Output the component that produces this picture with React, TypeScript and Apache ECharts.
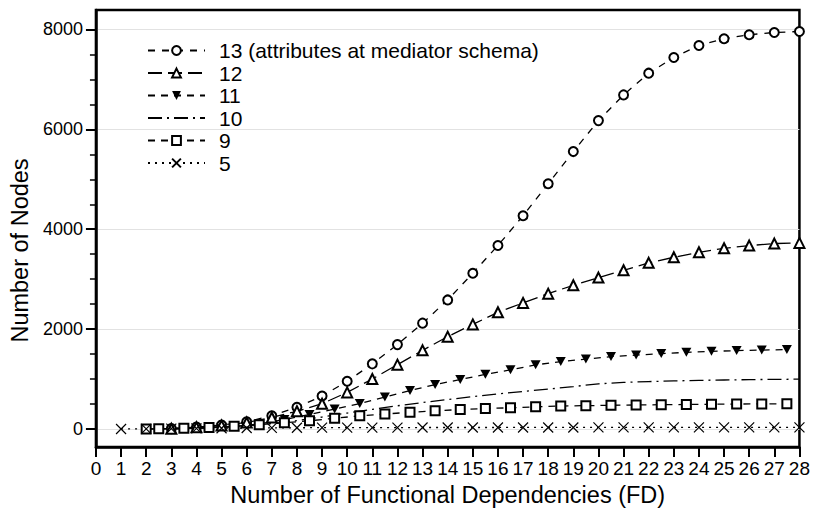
import React, { useEffect, useRef } from "react";
import * as echarts from "echarts";

const FONT = "'Liberation Sans', Arial, Helvetica, sans-serif";

const yMajor = [0, 2000, 4000, 6000, 8000];
const yMinor = [500, 1000, 1500, 2500, 3000, 3500, 4500, 5000, 5500, 6500, 7000, 7500];

const names = ["13 (attributes at mediator schema)", "12", "11", "10", "9", "5"];

// 13 attributes (circles)
const x13 = [3, 4, 5, 6, 7, 8, 9, 10, 11, 12, 13, 14, 15, 16, 17, 18, 19, 20, 21, 22, 23, 24, 25, 26, 27, 28];
const y13 = [8, 40, 78, 145, 265, 435, 660, 955, 1305, 1690, 2120, 2585, 3120, 3675, 4270, 4910, 5555, 6175, 6690, 7125, 7440, 7680, 7815, 7895, 7940, 7960];

// 12 attributes (open triangles)
const x12 = [3, 4, 5, 6, 7, 8, 9, 10, 11, 12, 13, 14, 15, 16, 17, 18, 19, 20, 21, 22, 23, 24, 25, 26, 27, 28];
const y12 = [6, 35, 70, 130, 232, 355, 507, 733, 1002, 1289, 1575, 1850, 2095, 2337, 2525, 2711, 2878, 3032, 3178, 3327, 3439, 3539, 3619, 3673, 3713, 3727];

// 11 attributes (filled down triangles)
const x11 = [2.5, 3.5, 4.5, 5.5, 6.5, 7.5, 8.5, 9.5, 10.5, 11.5, 12.5, 13.5, 14.5, 15.5, 16.5, 17.5, 18.5, 19.5, 20.5, 21.5, 22.5, 23.5, 24.5, 25.5, 26.5, 27.5];
const y11 = [2, 8, 22, 48, 100, 190, 290, 400, 510, 640, 770, 890, 990, 1095, 1185, 1285, 1350, 1400, 1450, 1480, 1510, 1535, 1555, 1570, 1580, 1590];

// 10 attributes (dash-dot, no marker)
const x10 = [2, 3, 4, 5, 6, 7, 8, 9, 10, 11, 12, 13, 14, 15, 16, 17, 18, 19, 20, 21, 22, 23, 24, 25, 26, 27, 28];
const y10 = [0, 5, 15, 35, 65, 110, 170, 240, 320, 395, 465, 530, 590, 648, 702, 752, 798, 850, 905, 932, 950, 963, 973, 982, 989, 994, 998];

// 9 attributes (open squares)
const x9 = [2, 2.5, 3.5, 4.5, 5.5, 6.5, 7.5, 8.5, 9.5, 10.5, 11.5, 12.5, 13.5, 14.5, 15.5, 16.5, 17.5, 18.5, 19.5, 20.5, 21.5, 22.5, 23.5, 24.5, 25.5, 26.5, 27.5];
const y9 = [2, 5, 15, 30, 55, 85, 125, 165, 215, 265, 300, 335, 365, 390, 410, 425, 445, 460, 468, 475, 482, 487, 492, 496, 500, 503, 507];

// 5 attributes (crosses)
const x5 = [1, 2, 3, 4, 5, 6, 7, 8, 9, 10, 11, 12, 13, 14, 15, 16, 17, 18, 19, 20, 21, 22, 23, 24, 25, 26, 27, 28];
const y5 = [1, 4, 8, 12, 16, 20, 23, 25, 27, 28, 29, 29, 30, 30, 30, 31, 31, 31, 31, 32, 32, 32, 32, 32, 32, 32, 32, 32];

const pairs = (xs: number[], ys: number[]) => xs.map((x, i) => [x, ys[i]]);

const DOWN_TRI = "path://M0,0 L10,0 L5,9 Z";
const CROSS = "path://M0,0 L10,10 M10,0 L0,10";

export default function App() {
  const ref = useRef<HTMLDivElement>(null);
  useEffect(() => {
    if (!ref.current) return;
    const chart = echarts.init(ref.current, undefined, { renderer: "svg" });
    const lineBase = { color: "#000", width: 1.3 };
    const common = {
      type: "line",
      smooth: false,
      z: 3,
      emphasis: { disabled: true },
    };
    chart.setOption({
      animation: false,
      backgroundColor: "#fff",
      textStyle: { fontFamily: FONT },
      grid: {
        left: 93,
        right: 13,
        top: 10,
        bottom: 65,
        show: true,
        borderColor: "#000",
        borderWidth: 2.5,
        backgroundColor: "transparent",
      },
      legend: {
        show: true,
        orient: "vertical",
        left: 147,
        top: 40,
        padding: 0,
        itemWidth: 57,
        itemHeight: 11,
        itemGap: 1.5,
        selectedMode: false,
        data: names.map((n) =>
          n === "10" ? { name: n, itemStyle: { opacity: 0 } } : { name: n }
        ),
        textStyle: {
          fontFamily: FONT,
          fontSize: 21,
          color: "#000",
          lineHeight: 21,
          padding: [0, 0, 0, 9],
        },
      },
      xAxis: {
        type: "value",
        min: 0,
        max: 28,
        interval: 1,
        name: "Number of Functional Dependencies (FD)",
        nameLocation: "middle",
        nameGap: 34,
        nameTextStyle: { fontFamily: FONT, fontSize: 23.5, color: "#000" },
        axisLine: { show: true, onZero: false, lineStyle: { color: "#000", width: 2.5 } },
        axisTick: { show: true, length: 10, lineStyle: { color: "#000", width: 2 } },
        axisLabel: {
          margin: 12,
          fontFamily: FONT,
          fontSize: 19,
          color: "#000",
          showMinLabel: true,
          showMaxLabel: true,
          formatter: (v: number) => String(v),
        },
        splitLine: { show: false },
      },
      yAxis: [
        {
          type: "value",
          min: -360,
          max: 8390,
          position: "left",
          name: "Number of Nodes",
          nameLocation: "middle",
          nameGap: 47,
          nameTextStyle: { fontFamily: FONT, fontSize: 23.5, color: "#000", padding: [0, 44, 0, 0] },
          axisLine: { show: true, onZero: false, lineStyle: { color: "#000", width: 2.5 } },
          axisTick: { show: true, length: 10, customValues: yMajor, lineStyle: { color: "#000", width: 2 } },
          axisLabel: {
            customValues: yMajor,
            margin: 13,
            fontFamily: FONT,
            fontSize: 18,
            color: "#000",
            formatter: (v: number) => String(v),
          },
          splitLine: { show: true, lineStyle: { color: "#e2e2e2", width: 1 } },
        },
        {
          type: "value",
          min: -360,
          max: 8390,
          position: "left",
          axisLine: { show: false },
          axisTick: { show: true, length: 6, customValues: yMinor, lineStyle: { color: "#000", width: 1.5 } },
          axisLabel: { show: false },
          splitLine: { show: false },
        },
      ],
      series: [
        {
          ...common,
          name: names[0],
          data: pairs(x13, y13),
          symbol: "emptyCircle",
          symbolSize: 9,
          itemStyle: { color: "#000", borderWidth: 1.4 },
          lineStyle: { ...lineBase, type: [7, 7] },
        },
        {
          ...common,
          name: names[1],
          data: pairs(x12, y12),
          symbol: "emptyTriangle",
          symbolSize: 10,
          itemStyle: { color: "#000", borderWidth: 1.4 },
          lineStyle: { ...lineBase, type: [14, 6] },
        },
        {
          ...common,
          name: names[2],
          data: pairs(x11, y11),
          symbol: DOWN_TRI,
          symbolSize: [10, 9],
          itemStyle: { color: "#000", borderWidth: 0 },
          lineStyle: { ...lineBase, type: [7, 6] },
        },
        {
          ...common,
          name: names[3],
          data: pairs(x10, y10),
          symbol: "none",
          showSymbol: false,
          itemStyle: { color: "#000" },
          lineStyle: { ...lineBase, type: [14, 5, 2, 5] },
        },
        {
          ...common,
          name: names[4],
          data: pairs(x9, y9),
          symbol: "emptyRect",
          symbolSize: 9,
          itemStyle: { color: "#000", borderWidth: 1.4 },
          lineStyle: { ...lineBase, type: [7, 6] },
        },
        {
          ...common,
          name: names[5],
          data: pairs(x5, y5),
          symbol: CROSS,
          symbolSize: 10,
          itemStyle: { color: "transparent", borderColor: "#000", borderWidth: 1.2 },
          lineStyle: { ...lineBase, type: [2, 5] },
        },
      ],
    });
    return () => chart.dispose();
  }, []);
  return (
    <div
      ref={ref}
      style={{ position: "absolute", left: 0, top: 0, width: 813, height: 512 }}
    />
  );
}
